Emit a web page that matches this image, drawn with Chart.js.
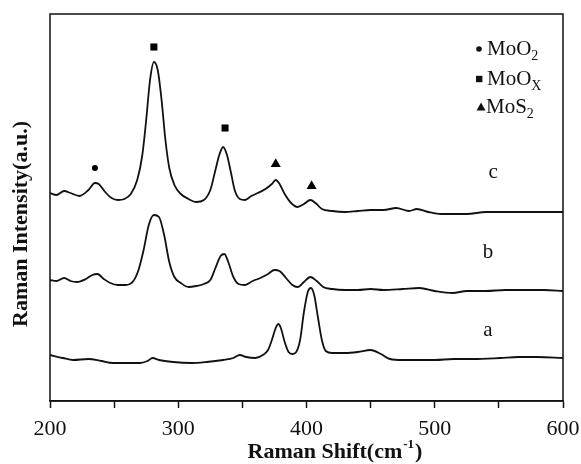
<!DOCTYPE html>
<html lang="en">
<head>
<meta charset="UTF-8">
<title>Raman spectra</title>
<script src="https://cdn.jsdelivr.net/npm/chart.js"></script>
<style>
  html, body { margin: 0; padding: 0; background: #fff; }
</style>
</head>
<body>
<canvas id="raman" width="581" height="464"></canvas>
<script>
// spectrum a
const shiftA = [200,210,218,230,240,249,260,270,276,280,285,296,310,322,335,343,348,353,360,366,370,373,376,378,380,383,386,389,392,395,398,401,403.5,406,409,412,415,420,430,440,450,458,465,475,488,500,515,530,551,565,580,600];
const intensityA = [48,45,43,44,42,40,40,40,42,45,43,41,40,41,43,45,48,46,45,48,53,63,75,79,75,61,51,49,51,63,91,111,115,108,85,63,52,50,50,51,53,49,44,43,43,43,44,44,45,46,46,45];

// spectrum b
const shiftB = [200,205,211,216,221,228,233,237,242,247,253,259,265,269,273,277,281,285,289,293,297,302,308,314,320,325,329,333,336,339,343,347,352,358,364,370,375,379,384,389,393,398,403,408,413,420,430,440,450,460,475,488,500,514,525,540,555,570,585,600];
const intensityB = [123,122,125,122,121,124,128,129,124,120,118,118,122,133,153,178,188,186,168,141,126,120,116,117,119,123,135,147,149,141,126,119,118,122,125,129,133,132,125,118,116,121,126,122,116,114,113,113,114,113,114,115,112,110,112,112,113,113,113,112];

// spectrum c
const shiftC = [200,205,211,216,223,230,235,238,243,248,253,258,263,268,272,275,278,281,284,287,290,293,297,302,308,314,320,325,329,332,335,338,341,344,348,352,357,362,368,373,376,379,383,388,393,398,403,407,412,420,430,440,450,460,470,480,486,495,505,515,525,540,555,570,585,600];
const intensityC = [210,208,212,210,207,213,220,219,211,205,203,204,209,223,248,283,323,341,333,303,263,235,218,209,204,201,203,213,233,248,256,248,231,213,204,203,207,210,214,219,223,219,209,200,196,199,203,200,194,192,191,192,193,193,195,192,194,191,189,189,189,191,191,191,191,191];

// peak markers
const moo2Shift = [235];
const moo2Height = [235];
const mooxShift = [281, 336.5];
const mooxHeight = [356, 275];
const mos2Shift = [376, 404];
const mos2Height = [239, 217];

// curve labels
const curveNames = ['a', 'b', 'c'];
const curveNameShift = [541.5, 541.5, 545.5];
const curveNameHeight = [73, 151, 231];

const tickLabels = [200, 300, 400, 500, 600];

const serif = "'Liberation Serif', 'Times New Roman', serif";

function toPoints(xs, ys) {
    return xs.map((x, i) => ({ x: x, y: ys[i] }));
}

function lineSet(xs, ys) {
    return {
        data: toPoints(xs, ys),
        borderColor: '#111',
        borderWidth: 1.8,
        pointRadius: 0,
        fill: false,
        cubicInterpolationMode: 'monotone',
        showLine: true
    };
}

function markerSet(xs, ys, style, radius) {
    return {
        data: toPoints(xs, ys),
        showLine: false,
        pointStyle: style,
        pointRadius: radius,
        pointBackgroundColor: '#000',
        pointBorderColor: '#000',
        pointBorderWidth: 0
    };
}

// frame, labels, legend and axis titles
const decorations = {
    id: 'decorations',
    afterDraw(chart) {
        const ctx = chart.ctx;
        const area = chart.chartArea;
        const xs = chart.scales.x;
        const ys = chart.scales.y;
        ctx.save();

        ctx.strokeStyle = '#111';
        ctx.lineWidth = 1.5;
        ctx.strokeRect(area.left, area.top, area.right - area.left, area.bottom - area.top);

        ctx.fillStyle = '#111';
        ctx.font = '21px ' + serif;
        ctx.textAlign = 'center';
        ctx.textBaseline = 'middle';
        curveNames.forEach((n, i) => {
            ctx.fillText(n, xs.getPixelForValue(curveNameShift[i]), ys.getPixelForValue(curveNameHeight[i]));
        });

        // legend
        const legend = [
            { sym: 'circle', base: 'MoO', sub: '2', y: 55, subDy: 5 },
            { sym: 'rect', base: 'MoO', sub: 'X', y: 85, subDy: 5 },
            { sym: 'triangle', base: 'MoS', sub: '2', y: 113, subDy: 5 }
        ];
        ctx.textAlign = 'left';
        ctx.textBaseline = 'alphabetic';
        legend.forEach(item => {
            const cy = item.y - 6;
            ctx.beginPath();
            if (item.sym === 'circle') {
                ctx.arc(479, cy, 2.8, 0, Math.PI * 2);
            } else if (item.sym === 'rect') {
                ctx.rect(476, cy - 3.2, 6.4, 6.4);
            } else {
                ctx.moveTo(481, cy - 4.5);
                ctx.lineTo(485.5, cy + 3.5);
                ctx.lineTo(476.5, cy + 3.5);
                ctx.closePath();
            }
            ctx.fill();
            ctx.font = '21px ' + serif;
            const tx = item.sym === 'triangle' ? 486 : 487;
            ctx.fillText(item.base, tx, item.y);
            const w = ctx.measureText(item.base).width;
            ctx.font = '14px ' + serif;
            ctx.fillText(item.sub, tx + w, item.y + item.subDy);
        });

        // x title with superscript
        ctx.font = 'bold 22px ' + serif;
        const main = 'Raman Shift(cm';
        const wMain = ctx.measureText(main).width;
        ctx.font = 'bold 13px ' + serif;
        const sup = '-1';
        const wSup = ctx.measureText(sup).width;
        ctx.font = 'bold 22px ' + serif;
        const wEnd = ctx.measureText(')').width;
        let x0 = 334 - (wMain + wSup + wEnd) / 2;
        const by = 458;
        ctx.fillText(main, x0, by);
        ctx.font = 'bold 13px ' + serif;
        ctx.fillText(sup, x0 + wMain + 1, by - 10);
        ctx.font = 'bold 22px ' + serif;
        ctx.fillText(')', x0 + wMain + wSup + 2, by);

        // y title
        ctx.translate(21, 224);
        ctx.rotate(-Math.PI / 2);
        ctx.textAlign = 'center';
        ctx.textBaseline = 'middle';
        ctx.fillText('Raman Intensity(a.u.)', 0, 0);

        ctx.restore();
    }
};

new Chart(document.getElementById('raman'), {
    type: 'line',
    data: {
        datasets: [
            lineSet(shiftA, intensityA),
            lineSet(shiftB, intensityB),
            lineSet(shiftC, intensityC),
            markerSet(moo2Shift, moo2Height, 'circle', 3),
            markerSet(mooxShift, mooxHeight, 'rect', 5),
            markerSet(mos2Shift, mos2Height, 'triangle', 5.8)
        ]
    },
    options: {
        responsive: false,
        animation: false,
        devicePixelRatio: 1,
        layout: { padding: { left: 50, right: 18, top: 14, bottom: 0 } },
        plugins: {
            legend: { display: false },
            tooltip: { enabled: false }
        },
        scales: {
            x: {
                type: 'linear',
                min: 200,
                max: 600,
                afterFit(scale) {
                    scale.height = 63;
                    scale.paddingLeft = 0;
                    scale.paddingRight = 0;
                },
                ticks: {
                    stepSize: 50,
                    autoSkip: false,
                    maxRotation: 0,
                    padding: 8,
                    color: '#111',
                    font: { family: serif, size: 22 },
                    callback: v => tickLabels.includes(v) ? String(v) : ''
                },
                grid: {
                    drawOnChartArea: false,
                    tickLength: 7,
                    tickColor: '#111',
                    tickWidth: 1.5
                },
                border: { color: '#111', width: 1.5 }
            },
            y: {
                display: false,
                min: 2,
                max: 389
            }
        }
    },
    plugins: [decorations]
});
</script>
</body>
</html>
